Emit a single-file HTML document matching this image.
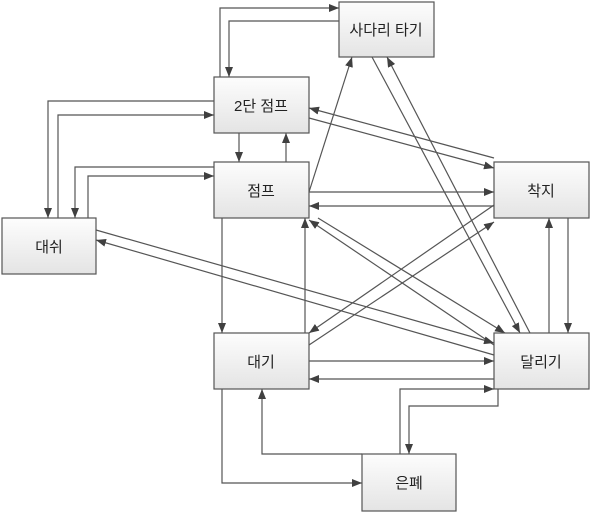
<!DOCTYPE html>
<html><head><meta charset="utf-8"><style>
body{margin:0;background:#fff;width:594px;height:516px;overflow:hidden}
svg{display:block}
text{font-family:"Liberation Sans","Noto Sans CJK KR",sans-serif;font-size:15px;fill:#222;text-anchor:middle}
</style></head><body>
<svg width="594" height="516" viewBox="0 0 594 516">
<defs>
<linearGradient id="g" x1="0" y1="0" x2="0" y2="1"><stop offset="0" stop-color="#fdfdfd"/><stop offset="1" stop-color="#e4e4e4"/></linearGradient>
<marker id="a" markerWidth="10" markerHeight="8" refX="10" refY="4" orient="auto" markerUnits="userSpaceOnUse"><path d="M0,0 L10,4 L0,8z" fill="#404040"/></marker>
</defs>
<g fill="none" stroke="#555" stroke-width="1.2" marker-end="url(#a)">
<path d="M220,77 V8 H339"/>
<path d="M339,21 H229 V77"/>
<path d="M214,101 H48 V218"/>
<path d="M58,218 V115 H214"/>
<path d="M214,167 H75 V218"/>
<path d="M88,218 V176 H214"/>
<path d="M239,133 V162"/>
<path d="M286,162 V133"/>
<path d="M309,192 L352,57"/>
<path d="M372,57 L520,333"/>
<path d="M530,333 L387,57"/>
<path d="M494,158 L309,108"/>
<path d="M309,118 L494,168"/>
<path d="M309,192 H494"/>
<path d="M494,206 H309"/>
<path d="M494,205 L309,333"/>
<path d="M309,345 L494,222"/>
<path d="M568,218 V333"/>
<path d="M549,333 V218"/>
<path d="M494,345 L309,220"/>
<path d="M318,218 L505,333"/>
<path d="M96,230 L494,343"/>
<path d="M494,355 L96,240"/>
<path d="M222,218 V333"/>
<path d="M305,333 V218"/>
<path d="M309,361 H494"/>
<path d="M494,379 H309"/>
<path d="M400,454 V389 H494"/>
<path d="M498,389 V406 H409 V454"/>
<path d="M222,389 V483 H362"/>
<path d="M362,454 H262 V389"/>
</g>
<g fill="url(#g)" stroke="#555" stroke-width="1.2">
<rect x="339" y="2" width="95" height="55"/>
<rect x="214" y="77" width="95" height="56"/>
<rect x="214" y="162" width="95" height="56"/>
<rect x="494" y="162" width="95" height="56"/>
<rect x="2" y="218" width="94" height="56"/>
<rect x="214" y="333" width="95" height="56"/>
<rect x="494" y="333" width="95" height="56"/>
<rect x="362" y="454" width="94" height="57"/>
</g>
<text x="386" y="35">사다리 타기</text>
<text x="261" y="111">2단 점프</text>
<text x="261" y="196">점프</text>
<text x="541" y="196">착지</text>
<text x="49" y="252">대쉬</text>
<text x="261" y="367">대기</text>
<text x="541" y="367">달리기</text>
<text x="409" y="488">은폐</text>
</svg>
</body></html>
